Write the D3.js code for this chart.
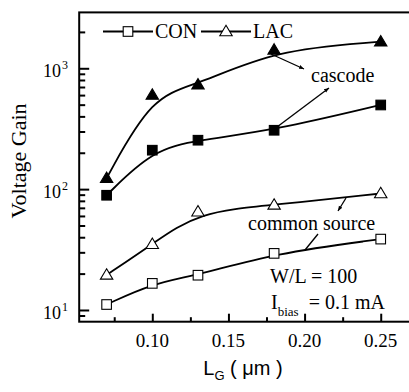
<!DOCTYPE html>
<html>
<head>
<meta charset="utf-8">
<script src="https://cdn.jsdelivr.net/npm/d3@7"></script>
<style>
  html, body { margin: 0; padding: 0; background: #fff; }
  svg { display: block; }
</style>
</head>
<body>
<svg id="chart" width="409" height="392"></svg>
<script>
// ---- data ----
const lengths = [0.07, 0.10, 0.13, 0.18, 0.25];
const cascodeLAC = [123, 600, 730, 1420, 1660];
const cascodeCON = [89, 210, 254, 307, 497];
const commonLAC = [19.5, 35, 65, 74, 92];
const commonCON = [11.1, 16.6, 19.4, 29.4, 38.6];
const xTickValues = [0.10, 0.15, 0.20, 0.25];
const xTickLabels = ["0.10", "0.15", "0.20", "0.25"];
const xMinorTicks = [0.075, 0.125, 0.175, 0.225];
const yTickValues = [10, 100, 1000];
const yTickExponents = ["1", "2", "3"];
const yMinorTicks = [9, 20, 30, 40, 50, 60, 70, 80, 90, 200, 300, 400, 500, 600, 700, 800, 900, 2000];
const legendLabels = ["CON", "LAC"];

(function () {
const svg = d3.select("#chart");
const serif = "'Liberation Serif', 'Times New Roman', serif";
const sans = "'Liberation Sans', Arial, sans-serif";

const x = d3.scaleLinear().domain([0.052, 0.271]).range([79.2, 412.7]);
const y = d3.scaleLog().domain([8, 2900]).range([321.7, 12.4]);

const pl = x.range()[0], pr = x.range()[1];
const pt = y.range()[1], pb = y.range()[0];

// frame
svg.append("rect").attr("x", pl).attr("y", pt)
  .attr("width", pr - pl).attr("height", pb - pt)
  .attr("fill", "none").attr("stroke", "#000").attr("stroke-width", 2);

// x axis ticks (inward)
const gx = svg.append("g").attr("transform", `translate(0,${pb})`);
gx.call(d3.axisBottom(x).tickValues(xTickValues).tickSize(-8).tickFormat(""));
const gx2 = svg.append("g").attr("transform", `translate(0,${pb})`);
gx2.call(d3.axisBottom(x).tickValues(xMinorTicks).tickSize(-4.5).tickFormat(""));
[gx, gx2].forEach(g => {
  g.select(".domain").remove();
  g.selectAll(".tick line").attr("stroke", "#000").attr("stroke-width", 2);
});
svg.append("g").selectAll("text").data(xTickValues).join("text")
  .attr("x", d => x(d)).attr("y", 347)
  .attr("text-anchor", "middle")
  .attr("font-family", serif).attr("font-size", 19)
  .text((d, i) => xTickLabels[i]);

// y axis ticks (inward)
const gy = svg.append("g").attr("transform", `translate(${pl},0)`);
gy.call(d3.axisLeft(y).tickValues(yTickValues).tickSize(-10).tickFormat(""));
const gy2 = svg.append("g").attr("transform", `translate(${pl},0)`);
gy2.call(d3.axisLeft(y).tickValues(yMinorTicks).tickSize(-6).tickFormat(""));
[gy, gy2].forEach(g => {
  g.select(".domain").remove();
  g.selectAll(".tick line").attr("stroke", "#000").attr("stroke-width", 2);
});
const yl = svg.append("g").selectAll("g").data(yTickValues).join("g");
yl.append("text")
  .attr("x", 61).attr("y", d => y(d) + 9)
  .attr("text-anchor", "end")
  .attr("font-family", serif).attr("font-size", 18)
  .text("10");
yl.append("text")
  .attr("x", 62).attr("y", d => y(d) + 1)
  .attr("font-family", serif).attr("font-size", 12)
  .text((d, i) => yTickExponents[i]);

// axis titles
svg.append("text")
  .attr("transform", `translate(26,${161}) rotate(-90)`)
  .attr("text-anchor", "middle")
  .attr("font-family", serif).attr("font-size", 22)
  .text("Voltage Gain");

const xt = svg.append("text")
  .attr("x", 243).attr("y", 375)
  .attr("text-anchor", "middle")
  .attr("font-family", sans).attr("font-size", 20);
xt.append("tspan").text("L");
xt.append("tspan").attr("font-size", 13).attr("dy", 5).text("G");
xt.append("tspan").attr("dy", -5).text(" ( \u03BCm )");

// curves
const line = d3.line()
  .x(d => x(d[0])).y(d => y(d[1]))
  .curve(d3.curveBasis);
const seriesList = [
  { values: cascodeLAC, shape: "tri", fill: "#000" },
  { values: cascodeCON, shape: "sq", fill: "#000" },
  { values: commonLAC, shape: "tri", fill: "#fff" },
  { values: commonCON, shape: "sq", fill: "#fff" }
];
seriesList.forEach(s => {
  svg.append("path")
    .datum(lengths.map((l, i) => [l, s.values[i]]))
    .attr("d", line)
    .attr("fill", "none").attr("stroke", "#000").attr("stroke-width", 1.8);
});

function marker(g, cx, cy, shape, fill) {
  if (shape === "sq") {
    g.append("rect").attr("x", cx - 4.8).attr("y", cy - 4.8)
      .attr("width", 9.6).attr("height", 9.6)
      .attr("fill", fill).attr("stroke", "#000").attr("stroke-width", 1.1);
  } else {
    g.append("path")
      .attr("d", `M${cx},${cy - 6.2}L${cx + 6.2},${cy + 4.2}L${cx - 6.2},${cy + 4.2}Z`)
      .attr("fill", fill).attr("stroke", "#000").attr("stroke-width", 1.1);
  }
}
const mg = svg.append("g");
seriesList.forEach(s => {
  lengths.forEach((l, i) => marker(mg, x(l), y(s.values[i]), s.shape, s.fill));
});

// legend
const lg = svg.append("g");
const legendItems = [
  { x0: 103, shape: "sq", label: legendLabels[0] },
  { x0: 201, shape: "tri", label: legendLabels[1] }
];
const ly = 31.5;
legendItems.forEach(it => {
  lg.append("line").attr("x1", it.x0).attr("x2", it.x0 + 50)
    .attr("y1", ly).attr("y2", ly)
    .attr("stroke", "#000").attr("stroke-width", 1.8);
  marker(lg, it.x0 + 25, ly, it.shape, "#fff");
  lg.append("text").attr("x", it.x0 + 52).attr("y", ly + 6.5)
    .attr("font-family", serif).attr("font-size", 20)
    .text(it.label);
});

// annotations
const defs = svg.append("defs");
defs.append("marker").attr("id", "ah")
  .attr("viewBox", "0 0 10 10").attr("refX", 10).attr("refY", 5)
  .attr("markerWidth", 5).attr("markerHeight", 5)
  .attr("markerUnits", "userSpaceOnUse")
  .attr("orient", "auto")
  .append("path").attr("d", "M0,1L10,5L0,9Z").attr("fill", "#000");

const ann = svg.append("g");
const arrows = [
  [271, 54, 304, 69],
  [277, 127, 329, 88],
  [346, 198, 338, 211]
];
arrows.forEach(a => {
  ann.append("line").attr("x1", a[0]).attr("y1", a[1]).attr("x2", a[2]).attr("y2", a[3])
    .attr("stroke", "#000").attr("stroke-width", 1.3).attr("marker-end", "url(#ah)");
});
ann.append("line").attr("x1", 305).attr("y1", 250).attr("x2", 318).attr("y2", 234)
  .attr("stroke", "#000").attr("stroke-width", 1.3);

ann.append("text").attr("x", 311).attr("y", 81.5)
  .attr("font-family", serif).attr("font-size", 20).text("cascode");
ann.append("text").attr("x", 248).attr("y", 229.5)
  .attr("font-family", serif).attr("font-size", 20).text("common source");
ann.append("text").attr("x", 270).attr("y", 283)
  .attr("font-family", serif).attr("font-size", 20).text("W/L = 100");
const ib = ann.append("text").attr("x", 271).attr("y", 308.5)
  .attr("font-family", serif).attr("font-size", 20);
ib.append("tspan").text("I");
ib.append("tspan").attr("font-size", 13).attr("dy", 7).text("bias");
ib.append("tspan").attr("dy", -7).attr("dx", 10).text("= 0.1 mA");
})();
</script>
</body>
</html>
